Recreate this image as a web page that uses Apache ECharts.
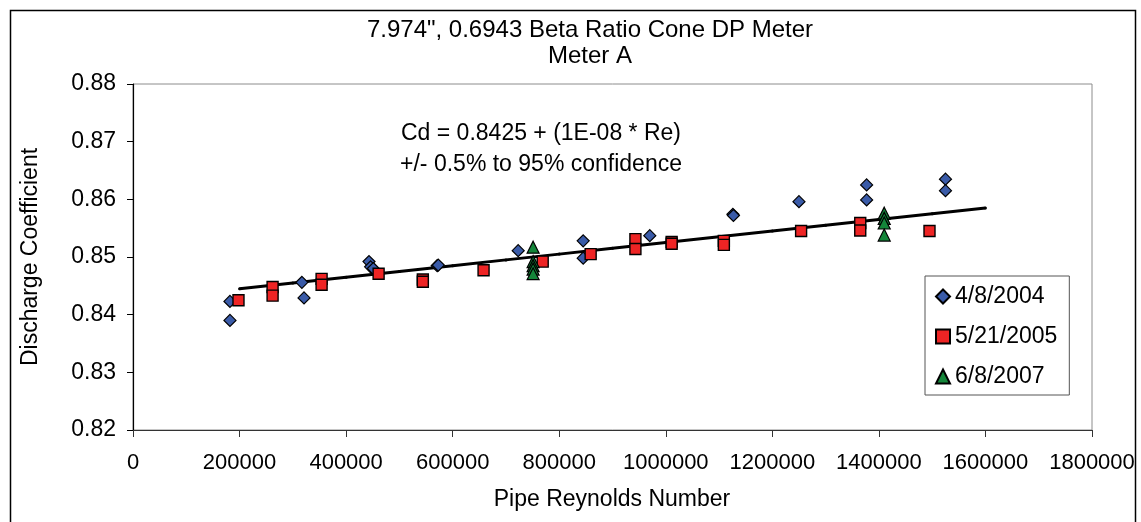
<!DOCTYPE html>
<html>
<head>
<meta charset="utf-8">
<script src="https://cdn.jsdelivr.net/npm/echarts@6/dist/echarts.min.js"></script>
<style>
html,body{margin:0;padding:0;background:#fff;}
#chart{width:1141px;height:522px;}
</style>
</head>
<body>
<div id="chart"></div>
<script>
// ---- data ----
var xTickLabels = ['0','200000','400000','600000','800000','1000000','1200000','1400000','1600000','1800000'];
var yTickLabels = ['0.82','0.83','0.84','0.85','0.86','0.87','0.88'];

var re2004 = [182000,182000,317000,321000,443000,446000,451000,571000,573000,723000,845000,845000,970000,1126000,1127000,1250000,1377000,1377000,1525000,1525000];
var cd2004 = [0.8423,0.8390,0.8456,0.8429,0.8492,0.8483,0.8480,0.8485,0.8486,0.8511,0.8528,0.8498,0.8537,0.8574,0.8572,0.8596,0.8625,0.8599,0.8635,0.8615];

var re2005 = [198000,262000,262000,354000,354000,461000,544000,544000,658000,769000,859000,943000,943000,1011000,1011000,1109000,1109000,1254000,1365000,1365000,1495000];
var cd2005 = [0.8425,0.8448,0.8433,0.8462,0.8452,0.8471,0.8461,0.8457,0.8477,0.8492,0.8505,0.8531,0.8514,0.8526,0.8523,0.8528,0.8521,0.8545,0.8559,0.8546,0.8545];

var re2007 = [751000,751000,751000,751000,751000,1410000,1410000,1410000,1410000];
var cd2007 = [0.8517,0.8492,0.8485,0.8479,0.8471,0.8576,0.8567,0.8559,0.8538];

var trendRe = [200000,300000,400000,500000,600000,700000,800000,900000,1000000,1100000,1200000,1300000,1400000,1500000,1600000];
var trendCd = [0.8445,0.8455,0.8465,0.8475,0.8485,0.8495,0.8505,0.8515,0.8525,0.8535,0.8545,0.8555,0.8565,0.8575,0.8585];

var seriesNames = ['4/8/2004','5/21/2005','6/8/2007'];
var titleLines = ['7.974", 0.6943 Beta Ratio Cone DP Meter','Meter A'];
var noteLines = ['Cd = 0.8425 + (1E-08 * Re)','+/- 0.5% to 95% confidence'];
var xName = 'Pipe Reynolds Number';
var yName = 'Discharge Coefficient';

function pairs(xs, ys){ return xs.map(function(x,i){ return [x, ys[i]]; }); }

var FONT = '"Liberation Sans", Arial, sans-serif';
var chart = echarts.init(document.getElementById('chart'), null, {renderer:'canvas'});

var option = {
  backgroundColor: '#ffffff',
  animation: false,
  textStyle: { fontFamily: FONT, color: '#000' },
  title: {
    text: titleLines.join('\n'),
    left: 590, top: 17, textAlign: 'center', padding: 0,
    textStyle: { fontFamily: FONT, fontSize: 24, fontWeight: 'normal', color: '#000', lineHeight: 26 }
  },
  grid: {
    left: 133, right: 49, top: 84, bottom: 92,
    show: true, borderColor: '#8c8c8c', borderWidth: 1, backgroundColor: '#fff'
  },
  legend: {
    orient: 'vertical', left: 925, top: 276,
    data: seriesNames,
    padding: [9, 12, 7, 10], itemGap: 17, itemWidth: 14, itemHeight: 14,
    backgroundColor: '#fff', borderColor: '#555', borderWidth: 1,
    textStyle: { fontFamily: FONT, fontSize: 23, color: '#000' }
  },
  xAxis: {
    type: 'value', min: 0, max: 1800000, interval: 200000,
    axisLine: { show: true, lineStyle: { color: '#333', width: 1.2 } },
    axisTick: { show: true, inside: false, length: 7, lineStyle: { color: '#333' } },
    splitLine: { show: false },
    axisLabel: { margin: 22, fontSize: 22, fontFamily: FONT, color: '#000',
      formatter: function(v){ return xTickLabels[Math.round(v/200000)]; } }
  },
  yAxis: {
    type: 'value', min: 0.82, max: 0.88, interval: 0.01,
    axisLine: { show: true, lineStyle: { color: '#000', width: 1.2 } },
    axisTick: { show: true, inside: false, length: 6, lineStyle: { color: '#000' } },
    splitLine: { show: false },
    axisLabel: { margin: 17, fontSize: 23, fontFamily: FONT, color: '#000',
      formatter: function(v){ return yTickLabels[Math.round((v-0.82)/0.01)]; } }
  },
  graphic: [
    { type: 'rect', left: 8, top: 8, shape: { width: 1125, height: 540 }, style: { fill: 'none', stroke: '#000', lineWidth: 1.5 }, z: 100, silent: true },
    { type: 'text', x: 541, y: 149, style: { text: noteLines.join('\n'), font: '23px ' + FONT, fill: '#000', align: 'center', verticalAlign: 'middle', lineHeight: 31 }, z: 50 },
    { type: 'text', x: 612, y: 500, style: { text: xName, font: '23px ' + FONT, fill: '#000', align: 'center', verticalAlign: 'middle' }, z: 50 },
    { type: 'text', x: 31, y: 257, rotation: Math.PI/2, style: { text: yName, font: '23px ' + FONT, fill: '#000', align: 'center', verticalAlign: 'middle' }, z: 50 }
  ],
  series: [
    { name: 'fit', type: 'line', data: pairs(trendRe, trendCd), symbol: 'circle', symbolSize: 3,
      itemStyle: { color: '#000' }, lineStyle: { color: '#000', width: 3 }, z: 1 },
    { name: seriesNames[0], type: 'scatter', data: pairs(re2004, cd2004), symbol: 'diamond', symbolSize: 12,
      itemStyle: { color: '#3A5BA8', borderColor: '#000', borderWidth: 1.2, opacity: 1 }, z: 3 },
    { name: seriesNames[1], type: 'scatter', data: pairs(re2005, cd2005), symbol: 'rect', symbolSize: 11,
      itemStyle: { color: '#EE2424', borderColor: '#000', borderWidth: 1.4, opacity: 1 }, z: 4 },
    { name: seriesNames[2], type: 'scatter', data: pairs(re2007, cd2007), symbol: 'triangle', symbolSize: 12,
      itemStyle: { color: '#14863A', borderColor: '#000', borderWidth: 1.2, opacity: 1 }, z: 5 }
  ]
};
chart.setOption(option);
</script>
</body>
</html>
